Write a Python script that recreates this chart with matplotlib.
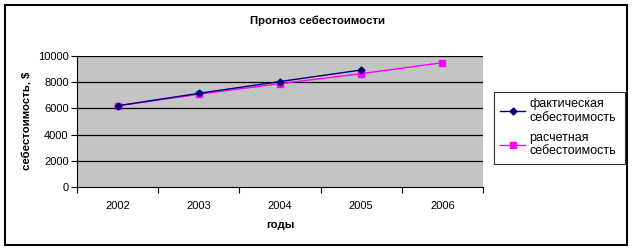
import matplotlib
matplotlib.use("Agg")
import matplotlib.pyplot as plt
from matplotlib.patches import Rectangle
from matplotlib.lines import Line2D

plt.rcParams['font.family'] = ['Liberation Sans', 'DejaVu Sans']

years = ['2002', '2003', '2004', '2005', '2006']
actual = [6200, 7150, 8050, 8930]
forecast = [6200, 7080, 7890, 8650, 9490]
title = 'Прогноз себестоимости'
xlabel = 'годы'
ylabel = 'себестоимость, $'
labels = ['фактическая\nсебестоимость', 'расчетная\nсебестоимость']

W, H = 634, 252
fig = plt.figure(figsize=(W / 100, H / 100), dpi=100)

def fx(px):
    return px / W

def fy(py):
    return 1 - py / H

# outer border
fig.patches.append(Rectangle((fx(5), fy(245)), fx(627) - fx(5), fy(5) - fy(245),
                             transform=fig.transFigure, fill=False,
                             edgecolor='black', linewidth=1.5, zorder=0))

ax = fig.add_axes([fx(77), fy(187), fx(483) - fx(77), fy(56) - fy(187)])
ax.set_facecolor('#c4c4c4')
x = list(range(len(years)))
ax.set_xlim(-0.5, len(years) - 0.5)
ax.set_ylim(0, 10000)
ax.set_yticks(range(0, 10001, 2000))
ax.set_xticks([i + 0.5 for i in range(-1, len(years))], minor=False)
ax.set_xticklabels([])
ax.set_xticks(x, minor=True)
ax.set_xticklabels(years, minor=True)
ax.tick_params(axis='x', which='major', direction='out', length=4, width=0.8)
ax.tick_params(axis='x', which='minor', length=0, pad=10, labelsize=8)
ax.tick_params(axis='y', direction='out', length=4, width=0.8, labelsize=8, pad=2)
for yv in range(2000, 10001, 2000):
    ax.axhline(yv, color='black', linewidth=0.9, zorder=1)
for s in ['top', 'right']:
    ax.spines[s].set_visible(False)
ax.spines['left'].set_linewidth(0.8)
ax.spines['bottom'].set_linewidth(0.8)

ax.plot(x[:len(actual)], actual, color='#000080', marker='D', markersize=3.5,
        linewidth=1, zorder=3)
ax.plot(x, forecast, color='#ff00ff', marker='s', markersize=5,
        linewidth=1, zorder=2)

fig.text(fx(317), fy(21), title, ha='center', va='center', fontsize=8.2,
         fontweight='bold')
fig.text(fx(280), fy(225), xlabel, ha='center', va='center', fontsize=8.2,
         fontweight='bold')
fig.text(fx(28), fy(121), ylabel, ha='center', va='center', fontsize=8.2,
         fontweight='bold', rotation=90)

handles = [Line2D([], [], color='#000080', marker='D', markersize=3.5, linewidth=1),
           Line2D([], [], color='#ff00ff', marker='s', markersize=4, linewidth=1)]
leg = fig.legend(handles, labels, loc='upper left',
                 bbox_to_anchor=(fx(494), fy(173), fx(624.5) - fx(494), fy(92) - fy(173)),
                 mode='expand', fontsize=9, frameon=True, fancybox=False,
                 edgecolor='black', handlelength=2.0, handletextpad=0.3,
                 labelspacing=0.6, borderaxespad=0, borderpad=0.5)
leg.get_frame().set_linewidth(0.8)

fig.savefig('out.png', dpi=100)
